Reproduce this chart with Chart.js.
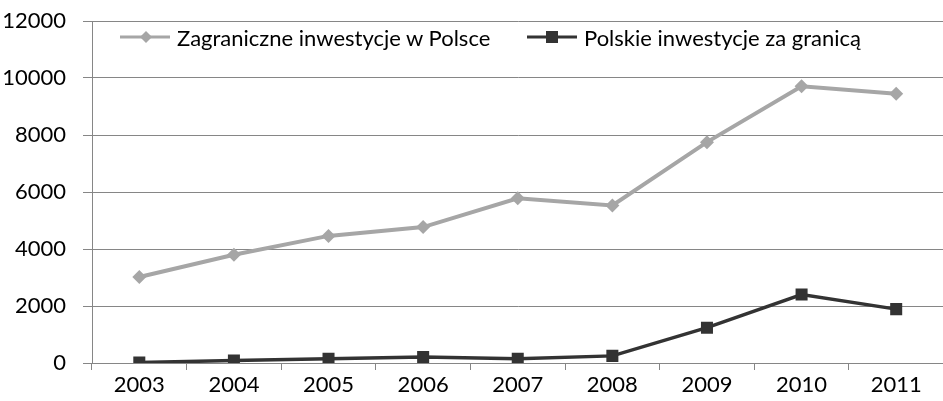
<!DOCTYPE html>
<html>
<head>
<meta charset="utf-8">
<script src="https://cdn.jsdelivr.net/npm/chart.js@4/dist/chart.umd.min.js"></script>
<style>
  html, body { margin: 0; padding: 0; background: #fff; overflow: hidden; }
  #wrap { position: relative; width: 952px; height: 401px; }
  .legend-item { position: absolute; top: 26px; height: 22px; display: flex; align-items: center;
    font-family: Lato, sans-serif; font-size: 22px; color: #000; white-space: nowrap; }
  .legend-item canvas { margin-right: 7px; }
</style>
</head>
<body>
<div id="wrap">
  <canvas id="chart" width="952" height="401"></canvas>
  <div class="legend-item" id="leg1" style="left:120px"></div>
  <div class="legend-item" id="leg2" style="left:527px"></div>
</div>
<script>
// data
const years = ["2003", "2004", "2005", "2006", "2007", "2008", "2009", "2010", "2011"];
const foreignInPoland = [3020, 3800, 4460, 4770, 5780, 5530, 7750, 9710, 9450];
const polishAbroad = [15, 90, 150, 210, 150, 250, 1240, 2400, 1890];
const yTicks = [0, 2000, 4000, 6000, 8000, 10000, 12000];
const seriesNames = ["Zagraniczne inwestycje w Polsce", "Polskie inwestycje za granicą"];

const grayColor = "#a6a6a6";
const darkColor = "#333333";
const gridColor = "#868686";
const tickFont = { family: "Lato", size: 22 };

// legend: line with marker, then label
function legendIcon(color, shape) {
  const c = document.createElement("canvas");
  c.width = 50; c.height = 16;
  const g = c.getContext("2d");
  g.strokeStyle = color;
  g.fillStyle = color;
  g.lineWidth = 3;
  g.beginPath(); g.moveTo(0, 8); g.lineTo(50, 8); g.stroke();
  g.beginPath();
  if (shape === "diamond") {
    g.moveTo(26, 2); g.lineTo(32, 8); g.lineTo(26, 14); g.lineTo(20, 8); g.closePath();
  } else {
    g.rect(19, 2, 12, 12);
  }
  g.fill();
  return c;
}
function buildLegend(id, color, shape, text) {
  const el = document.getElementById(id);
  el.appendChild(legendIcon(color, shape));
  const span = document.createElement("span");
  span.textContent = text;
  el.appendChild(span);
}
buildLegend("leg1", grayColor, "diamond", seriesNames[0]);
buildLegend("leg2", darkColor, "square", seriesNames[1]);

// chart
const ctx = document.getElementById("chart").getContext("2d");
new Chart(ctx, {
  type: "line",
  data: {
    labels: years,
    datasets: [
      {
        label: seriesNames[0],
        data: foreignInPoland,
        borderColor: grayColor,
        backgroundColor: grayColor,
        borderWidth: 4,
        pointStyle: "rectRot",
        pointRadius: 7,
        pointBorderWidth: 0,
        tension: 0
      },
      {
        label: seriesNames[1],
        data: polishAbroad,
        borderColor: darkColor,
        backgroundColor: darkColor,
        borderWidth: 3.5,
        pointStyle: "rect",
        pointRadius: 8.5,
        pointBorderWidth: 0,
        tension: 0
      }
    ]
  },
  options: {
    responsive: false,
    animation: false,
    layout: { padding: { top: 21, right: 1, left: 0, bottom: 0 } },
    plugins: {
      legend: { display: false },
      tooltip: { enabled: false }
    },
    scales: {
      x: {
        offset: true,
        grid: { offset: true, drawOnChartArea: false, drawTicks: true, tickLength: 7, color: gridColor },
        border: { color: gridColor },
        ticks: { font: tickFont, color: "#000", padding: 2, maxRotation: 0 },
        afterFit: (s) => { s.height = 38; s.paddingLeft = 0; s.paddingRight = 0; }
      },
      y: {
        min: 0,
        max: 12000,
        afterBuildTicks: (s) => { s.ticks = yTicks.map(v => ({ value: v })); },
        grid: { color: gridColor, tickLength: 9 },
        border: { color: gridColor },
        ticks: { font: tickFont, color: "#000", padding: 17, callback: (v) => String(v) },
        afterFit: (s) => { s.width = 92; s.paddingTop = 0; s.paddingBottom = 0; }
      }
    }
  }
});
</script>
</body>
</html>
